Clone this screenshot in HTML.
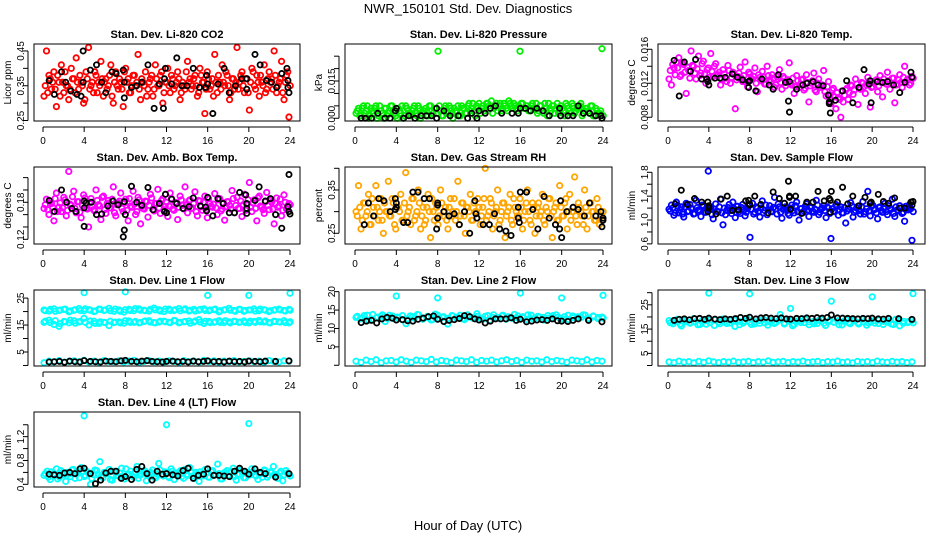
<!DOCTYPE html>
<html><head><meta charset="utf-8"><style>
html,body{margin:0;padding:0;background:#fff}
svg{display:block;font-family:"Liberation Sans",sans-serif}
</style></head><body>
<svg id="chart" width="936" height="540" viewBox="0 0 936 540">
<rect width="936" height="540" fill="#fff"/>
<text x="468" y="13" text-anchor="middle" font-size="13">NWR_150101  Std. Dev. Diagnostics</text>
<text x="468" y="530" text-anchor="middle" font-size="13">Hour of Day (UTC)</text>
</svg>
<script>
const xTicks=[0,4,8,12,16,20,24];
const co2Color=[0.32,0.45,0.38,0.34,0.39,0.29,0.36,0.41,0.33,0.35,0.31,0.40,0.37,0.43,0.34,0.36,0.30,0.39,0.46,0.35,0.33,0.38,0.36,0.42,0.32,0.37,0.35,0.41,0.30,0.39,0.34,0.36,0.29,0.40,0.37,0.33,0.38,0.35,0.44,0.31,0.36,0.39,0.34,0.37,0.32,0.41,0.35,0.38,0.30,0.36,0.40,0.33,0.37,0.35,0.39,0.31,0.36,0.34,0.42,0.37,0.35,0.38,0.32,0.40,0.36,0.27,0.39,0.34,0.37,0.44,0.33,0.36,0.41,0.35,0.38,0.31,0.37,0.34,0.46,0.36,0.39,0.33,0.37,0.28,0.40,0.35,0.38,0.32,0.36,0.41,0.34,0.39,0.37,0.45,0.33,0.36,0.42,0.31,0.38,0.26];
const co2ColorB=[0.35,0.33,0.37,0.36,0.34,0.38,0.32,0.36,0.39,0.35,0.34,0.37,0.33,0.36,0.38,0.35,0.31,0.37,0.34,0.36,0.39,0.33,0.35,0.37,0.36,0.34,0.38,0.32,0.36,0.35,0.37,0.34,0.39,0.36,0.33,0.35,0.38,0.36,0.34,0.37,0.35,0.32,0.36,0.38,0.34,0.37,0.35,0.39,0.33,0.36,0.35,0.38,0.34,0.36,0.37,0.33,0.35,0.39,0.36,0.34,0.37,0.35,0.33,0.38,0.36,0.34,0.37,0.35,0.32,0.36,0.38,0.34,0.36,0.39,0.35,0.33,0.37,0.36,0.34,0.38,0.35,0.37,0.33,0.36,0.39,0.34,0.36,0.38,0.35,0.33,0.37,0.36,0.34,0.38,0.35,0.37,0.33,0.36,0.39,0.35];
const co2BlackH=[0.6,1.1,1.8,2.2,2.7,3.3,3.7,3.9,3.9,4.6,5.2,5.7,6.1,6.7,7.1,7.8,7.9,7.9,8.6,9.1,9.6,10.2,10.8,11.3,11.7,11.8,11.9,12.5,13.0,13.5,14.0,14.6,15.2,15.8,15.9,16.0,16.5,17.0,17.6,18.1,18.7,19.3,19.8,19.8,20.6,21.1,21.7,22.2,22.7,23.2,23.7,23.8,23.9,23.8];
const co2BlackV=[0.365,0.325,0.39,0.36,0.335,0.325,0.32,0.45,0.36,0.395,0.41,0.36,0.33,0.39,0.385,0.395,0.36,0.315,0.345,0.35,0.36,0.41,0.285,0.355,0.285,0.37,0.40,0.355,0.43,0.35,0.35,0.40,0.345,0.345,0.38,0.355,0.27,0.355,0.40,0.33,0.35,0.37,0.34,0.37,0.44,0.41,0.365,0.36,0.345,0.385,0.40,0.345,0.33,0.365];
const presColor=[0.002,0.004,0.001,0.005,0.003,0.000,0.004,0.002,0.005,0.001,0.003,0.000,0.004,0.002,0.005,0.003,0.001,0.004,0.002,0.000,0.005,0.003,0.001,0.004,0.002,0.005,0.000,0.003,0.004,0.001,0.005,0.002,0.004,0.027,0.003,0.001,0.005,0.002,0.004,0.000,0.003,0.005,0.001,0.004,0.002,0.005,0.003,0.006,0.001,0.004,0.002,0.005,0.003,0.006,0.004,0.002,0.005,0.003,0.006,0.004,0.005,0.003,0.006,0.004,0.005,0.003,0.027,0.006,0.004,0.005,0.003,0.006,0.004,0.002,0.005,0.003,0.006,0.001,0.004,0.005,0.002,0.006,0.003,0.004,0.001,0.005,0.003,0.006,0.002,0.004,0.005,0.001,0.003,0.004,0.002,0.005,0.001,0.003,0.002,0.028];
const presColorB=[0.003,0.001,0.004,0.002,0.005,0.001,0.003,0.004,0.000,0.005,0.002,0.004,0.001,0.003,0.005,0.002,0.000,0.003,0.005,0.001,0.004,0.002,0.003,0.005,0.001,0.004,0.002,0.003,0.001,0.005,0.003,0.004,0.002,0.005,0.001,0.004,0.003,0.005,0.002,0.004,0.003,0.001,0.005,0.004,0.002,0.006,0.004,0.003,0.005,0.006,0.004,0.003,0.006,0.005,0.007,0.004,0.006,0.005,0.003,0.006,0.004,0.007,0.005,0.006,0.004,0.005,0.006,0.004,0.005,0.003,0.005,0.004,0.006,0.003,0.005,0.002,0.004,0.006,0.003,0.005,0.004,0.002,0.005,0.003,0.006,0.004,0.002,0.005,0.003,0.004,0.006,0.002,0.004,0.003,0.005,0.001,0.004,0.002,0.003,0.001];
const presBlackH=[0.6,1,1.6,2.2,2.9,3.4,3.9,4,4.7,5.2,5.8,6.4,6.9,7.4,7.9,7.9,8.6,9.2,10.0,10.9,11.3,11.8,12,12.6,13.1,13.6,14.2,15.2,15.8,16.0,16.5,17.0,17.6,18.2,18.8,19.8,19.9,20.6,21.1,21.6,22.1,22.7,23.3,23.8,23.9];
const presBlackV=[0,0,0,0.002,0,0,0.003,0.004,0,0.001,0,0.001,0.001,0.001,0,0.004,0.003,0.001,0.001,0,0.002,0,0.003,0.002,0.004,0.005,0.002,0.002,0.002,0.004,0.004,0.003,0.004,0.003,0.001,0.004,0.001,0.001,0.001,0.005,0.002,0.002,0.001,0.001,0];
const tempColor=[0.0125,0.0118,0.0138,0.0145,0.0150,0.0130,0.0142,0.0108,0.0135,0.0158,0.0140,0.0125,0.0152,0.0132,0.0146,0.0120,0.0138,0.0155,0.0128,0.0143,0.0130,0.0118,0.0136,0.0126,0.0141,0.0120,0.0133,0.0090,0.0128,0.0139,0.0122,0.0145,0.0116,0.0131,0.0125,0.0138,0.0110,0.0127,0.0134,0.0119,0.0140,0.0124,0.0130,0.0115,0.0128,0.0136,0.0113,0.0126,0.0121,0.0144,0.0118,0.0108,0.0129,0.0115,0.0124,0.0112,0.0130,0.0098,0.0120,0.0132,0.0110,0.0125,0.0117,0.0135,0.0105,0.0122,0.0096,0.0114,0.0090,0.0103,0.0080,0.0098,0.0112,0.0101,0.0118,0.0107,0.0125,0.0095,0.0113,0.0120,0.0108,0.0127,0.0092,0.0116,0.0123,0.0110,0.0129,0.0104,0.0121,0.0133,0.0113,0.0126,0.0097,0.0119,0.0130,0.0115,0.0140,0.0124,0.0118,0.0128];
const tempColorB=[0.0135,0.0142,0.0130,0.0138,0.0128,0.0144,0.0133,0.0139,0.0126,0.0141,0.0132,0.0137,0.0129,0.0143,0.0131,0.0136,0.0127,0.0134,0.0140,0.0129,0.0133,0.0125,0.0131,0.0122,0.0135,0.0127,0.0130,0.0124,0.0132,0.0126,0.0129,0.0121,0.0133,0.0125,0.0128,0.0120,0.0130,0.0123,0.0127,0.0119,0.0129,0.0122,0.0126,0.0118,0.0125,0.0121,0.0128,0.0117,0.0124,0.0120,0.0126,0.0116,0.0123,0.0119,0.0125,0.0114,0.0121,0.0117,0.0123,0.0112,0.0120,0.0115,0.0118,0.0110,0.0116,0.0106,0.0112,0.0104,0.0109,0.0101,0.0111,0.0106,0.0114,0.0109,0.0117,0.0112,0.0119,0.0114,0.0121,0.0116,0.0118,0.0122,0.0115,0.0120,0.0124,0.0117,0.0121,0.0125,0.0119,0.0123,0.0120,0.0126,0.0118,0.0124,0.0121,0.0127,0.0122,0.0125,0.0120,0.0126];
const tempBlackH=[0.6,1.1,1.6,2.2,2.7,3.3,3.8,3.9,4,4.6,5.1,5.6,6.3,6.8,7.3,7.9,8.0,7.9,8.6,9.2,9.9,10.3,10.8,11.5,11.8,11.9,11.9,12.6,13.2,13.6,14.2,14.7,15.2,15.7,15.8,15.8,15.9,16.4,17.1,17.5,18.1,18.7,19.2,19.7,19.8,19.9,20.5,21.0,21.5,22.1,22.7,23.2,23.8,23.9];
const tempBlackV=[0.0147,0.0105,0.0145,0.0134,0.0148,0.0125,0.0125,0.0122,0.0118,0.0126,0.0126,0.0127,0.0131,0.0127,0.0124,0.0122,0.0123,0.0115,0.0111,0.0125,0.0118,0.0113,0.0130,0.0121,0.0099,0.0122,0.0086,0.0113,0.0118,0.0120,0.0122,0.0118,0.0117,0.0106,0.0098,0.0096,0.0085,0.0100,0.0111,0.0123,0.0097,0.0115,0.0136,0.0119,0.0123,0.0097,0.0122,0.0121,0.0122,0.0118,0.0109,0.0121,0.0133,0.0127];
const ambColor=[0.170,0.185,0.160,0.178,0.150,0.195,0.172,0.165,0.188,0.158,0.230,0.175,0.198,0.163,0.181,0.155,0.192,0.170,0.140,0.186,0.168,0.200,0.176,0.152,0.190,0.162,0.183,0.171,0.205,0.158,0.179,0.195,0.165,0.185,0.150,0.174,0.198,0.160,0.188,0.145,0.170,0.182,0.156,0.193,0.168,0.178,0.201,0.162,0.186,0.173,0.157,0.195,0.169,0.180,0.152,0.190,0.175,0.205,0.163,0.184,0.171,0.197,0.158,0.182,0.167,0.190,0.155,0.178,0.172,0.194,0.160,0.186,0.169,0.151,0.181,0.175,0.199,0.163,0.188,0.170,0.157,0.193,0.176,0.212,0.165,0.184,0.150,0.190,0.172,0.162,0.196,0.168,0.180,0.145,0.187,0.174,0.158,0.192,0.169,0.178];
const ambColorB=[0.176,0.168,0.182,0.172,0.186,0.165,0.179,0.171,0.184,0.167,0.177,0.189,0.170,0.181,0.164,0.175,0.187,0.169,0.180,0.173,0.166,0.183,0.174,0.188,0.168,0.178,0.171,0.185,0.163,0.176,0.182,0.170,0.179,0.167,0.186,0.172,0.177,0.165,0.184,0.173,0.169,0.181,0.175,0.187,0.166,0.178,0.171,0.183,0.168,0.180,0.174,0.186,0.167,0.179,0.172,0.184,0.169,0.176,0.182,0.170,0.178,0.165,0.183,0.173,0.180,0.168,0.186,0.174,0.177,0.171,0.184,0.166,0.179,0.173,0.181,0.169,0.186,0.175,0.170,0.182,0.176,0.167,0.184,0.172,0.179,0.170,0.187,0.174,0.168,0.181,0.175,0.183,0.169,0.178,0.172,0.185,0.167,0.180,0.174,0.176];
const ambBlackH=[0.6,1.1,1.8,2.3,2.8,3.2,4.0,4.0,4.0,4.2,4.7,5.2,5.7,6.3,6.8,7.3,7.8,7.9,7.9,8.0,8.6,9.1,9.6,10.2,10.7,11.3,11.8,11.9,12.0,12.5,13.0,13.6,14.2,14.6,15.3,15.8,15.9,16.0,16.5,17.0,17.5,18.1,18.6,19.1,19.7,19.8,19.8,19.8,20.6,21.0,21.6,22.1,22.6,23.2,23.8,23.9,23.9,24.0];
const ambBlackV=[0.183,0.165,0.200,0.180,0.170,0.165,0.182,0.171,0.141,0.179,0.180,0.160,0.161,0.174,0.182,0.176,0.124,0.135,0.181,0.160,0.206,0.180,0.175,0.204,0.168,0.178,0.165,0.193,0.163,0.185,0.178,0.170,0.173,0.187,0.174,0.172,0.166,0.188,0.158,0.186,0.178,0.163,0.163,0.196,0.192,0.178,0.170,0.162,0.183,0.205,0.182,0.186,0.160,0.138,0.173,0.225,0.165,0.161];
const rhColor=[0.30,0.36,0.26,0.32,0.29,0.34,0.27,0.31,0.36,0.28,0.33,0.25,0.30,0.37,0.29,0.32,0.26,0.31,0.34,0.28,0.39,0.30,0.27,0.33,0.29,0.35,0.26,0.31,0.28,0.34,0.24,0.30,0.32,0.27,0.35,0.29,0.31,0.26,0.33,0.30,0.28,0.37,0.29,0.32,0.25,0.31,0.34,0.28,0.30,0.33,0.27,0.31,0.40,0.29,0.33,0.26,0.30,0.35,0.28,0.32,0.24,0.30,0.34,0.27,0.31,0.29,0.33,0.26,0.30,0.35,0.28,0.32,0.25,0.31,0.29,0.34,0.27,0.30,0.33,0.24,0.31,0.28,0.36,0.29,0.32,0.26,0.34,0.30,0.38,0.27,0.31,0.29,0.35,0.26,0.32,0.30,0.28,0.33,0.27,0.29];
const rhColorB=[0.29,0.31,0.28,0.32,0.30,0.27,0.33,0.29,0.31,0.30,0.28,0.32,0.30,0.29,0.33,0.27,0.31,0.30,0.28,0.32,0.29,0.31,0.33,0.28,0.30,0.32,0.29,0.27,0.31,0.30,0.33,0.28,0.31,0.29,0.32,0.30,0.28,0.31,0.29,0.33,0.30,0.27,0.32,0.29,0.31,0.30,0.28,0.32,0.30,0.31,0.29,0.33,0.28,0.30,0.32,0.29,0.31,0.27,0.30,0.32,0.29,0.31,0.28,0.33,0.30,0.29,0.31,0.28,0.32,0.30,0.27,0.31,0.29,0.32,0.30,0.28,0.31,0.33,0.29,0.30,0.32,0.28,0.31,0.29,0.33,0.30,0.28,0.31,0.29,0.32,0.30,0.27,0.31,0.29,0.32,0.30,0.28,0.31,0.29,0.30];
const rhBlackH=[0.9,1.3,1.8,2.3,2.8,3.4,3.9,3.9,4.0,4.0,4.7,5.1,5.6,6.1,6.7,7.2,7.9,8.0,8.0,8.0,8.6,9.1,9.6,10.1,10.6,11.1,11.6,11.7,11.8,12.4,13.0,13.5,14.0,14.6,15.1,15.8,15.8,15.9,16.0,16.6,17.2,17.7,18.3,18.8,19.4,19.8,19.9,20.0,20.5,21.1,21.6,22.2,22.7,23.3,23.8,23.9,24.0,24.0];
const rhBlackV=[0.27,0.32,0.29,0.33,0.325,0.30,0.33,0.305,0.31,0.32,0.275,0.275,0.345,0.345,0.33,0.33,0.26,0.285,0.315,0.32,0.30,0.29,0.295,0.27,0.30,0.25,0.325,0.295,0.285,0.27,0.27,0.295,0.26,0.255,0.245,0.31,0.285,0.275,0.345,0.345,0.305,0.26,0.335,0.285,0.27,0.26,0.325,0.24,0.30,0.31,0.305,0.29,0.32,0.29,0.30,0.265,0.28,0.285];
const flowColor=[1.18,1.25,1.08,1.30,1.12,1.22,1.05,1.28,1.15,1.20,1.10,1.33,1.17,1.06,1.24,1.13,1.82,1.19,1.02,1.27,1.14,1.35,0.92,1.09,1.21,1.16,1.30,1.04,1.23,1.11,1.26,1.07,1.19,0.71,1.28,1.13,1.20,1.05,1.32,1.16,1.09,1.24,1.14,1.38,1.10,1.22,1.03,1.28,1.17,1.08,1.25,1.12,1.30,1.00,1.19,1.15,1.27,1.06,1.21,1.13,1.33,1.09,1.18,1.24,1.04,1.20,0.69,1.15,1.26,1.08,1.22,1.12,0.95,1.19,1.29,1.05,1.16,1.23,1.10,1.31,1.14,1.48,1.07,1.25,1.18,1.02,1.22,1.13,1.28,1.09,1.20,1.35,1.06,1.17,1.24,1.11,0.98,1.19,1.26,0.66];
const flowColorB=[1.15,1.20,1.12,1.24,1.17,1.10,1.22,1.14,1.26,1.18,1.11,1.21,1.16,1.25,1.13,1.19,1.23,1.09,1.18,1.15,1.22,1.12,1.20,1.16,1.26,1.11,1.19,1.23,1.14,1.21,1.17,1.13,1.24,1.18,1.10,1.22,1.15,1.20,1.12,1.25,1.17,1.14,1.21,1.19,1.27,1.13,1.18,1.22,1.11,1.20,1.16,1.24,1.14,1.19,1.12,1.23,1.17,1.21,1.15,1.18,1.25,1.13,1.20,1.16,1.22,1.11,1.19,1.14,1.23,1.17,1.12,1.21,1.15,1.18,1.24,1.13,1.20,1.16,1.22,1.10,1.19,1.15,1.23,1.17,1.12,1.21,1.16,1.19,1.14,1.24,1.18,1.11,1.22,1.15,1.20,1.13,1.23,1.17,1.19,1.14];
const flowBlackH=[0.7,1.3,1.9,2.6,3.3,3.9,4.0,4.0,3.9,4.7,5.2,5.8,6.3,6.9,7.6,7.9,8.0,8.0,8.5,9.1,9.8,10.3,10.9,11.4,11.8,11.9,11.9,12.0,12.5,13.1,13.6,14.2,14.7,15.3,15.8,15.9,15.9,16.0,16.6,17.1,17.6,18.1,18.7,19.3,19.8,19.9,20.6,21.1,21.6,22.2,22.7,23.2,23.8,23.9,24.0];
const flowBlackV=[1.27,1.50,1.26,1.36,1.30,1.30,1.24,1.20,1.14,1.10,1.35,1.40,1.16,1.17,1.32,1.33,1.27,1.25,1.40,1.26,1.12,1.47,1.36,1.28,1.65,1.40,1.38,1.18,1.40,1.11,1.30,1.30,1.48,1.32,1.36,1.33,1.13,1.48,1.30,1.55,1.27,1.40,1.24,1.38,1.28,1.30,1.43,1.31,1.28,1.37,1.20,1.20,1.30,1.25,1.31];
const lineBlackH=[0.6,1.1,1.6,2.1,2.6,3.1,3.6,4.0,4.6,5.1,5.6,6.1,6.6,7.1,7.6,8.0,8.6,9.1,9.6,10.1,10.6,11.1,11.6,12.0,12.6,13.1,13.6,14.1,14.6,15.1,15.6,16.0,16.6,17.1,17.6,18.1,18.6,19.1,19.6,20.0,20.6,21.1,21.6,22.6,23.9];
const line1Upper=[20.6,20.2,21.0,20.4,20.8,19.9,20.5,21.1,20.3,20.7,20.0,20.9,20.4,21.2,20.1,20.6,19.8,20.8,20.3,21.0,20.5,20.2,21.3,20.7,20.0,20.9,20.4,21.1,20.6,20.2,20.8,20.5,21.0,20.3,20.7,19.9,20.6,21.2,20.4,20.8,20.1,20.6,21.0,20.3,20.7,20.0,20.5,20.9,20.4,20.8];
const line1UpperB=[20.3,20.8,20.1,20.6,20.9,20.2,20.7,20.4,21.0,20.5,20.2,20.8,20.6,20.3,20.9,20.1,20.7,20.4,21.1,20.5,20.3,20.8,20.6,20.2,20.9,20.4,20.7,20.3,21.0,20.5,20.2,20.8,20.4,20.6,20.9,20.3,20.7,20.5,20.1,20.8,20.4,20.6,20.2,20.9,20.5,20.3,20.7,20.6,20.2,20.5];
const line1Lower=[16.0,16.8,15.2,14.5,16.3,15.8,16.6,16.1,17.5,15.0,16.4,15.6,16.0,14.8,15.9,16.2,15.7,16.5,16.0,15.8,16.3,16.6,15.9,16.1,16.4,16.0,16.7,15.8,16.2,16.5,16.1,17.0,15.6,16.3,16.0,16.6,15.9,16.2,16.4,16.0,16.5,15.8,16.3,16.7,16.1,15.9,16.4,16.2,16.6,15.8];
const line1LowerB=[16.4,15.9,16.6,15.5,16.2,16.8,15.7,16.3,16.0,16.5,15.6,16.2,15.9,16.4,16.1,15.8,16.6,16.0,16.3,15.9,16.5,16.1,15.8,16.4,16.2,15.9,16.6,16.0,16.3,15.7,16.5,16.1,16.4,15.9,16.2,16.0,16.6,15.8,16.3,16.1,15.9,16.4,16.0,16.2,16.5,15.8,16.3,16.1,15.9,16.2];
const line1Low=[1.0,1.6,1.3,1.8,1.2,1.5,1.7,1.4,1.9,1.3,1.6,1.2,1.8,1.5,1.4,1.7,1.3,1.6,1.9,1.2,1.5,1.8,1.4,1.6,1.3,1.7,1.5,1.2,1.8,1.4,1.6,1.3,1.9,1.5,1.7,1.2,1.6,1.4,1.8,1.3,1.5,1.7,1.4,1.6,1.2,1.8,1.5,1.3,1.7,1.6];
const line1OutH=[4,8,16,20,24];
const line1OutV=[27,27.3,26,26,26.8];
const line1BlackV=[1.3,1.4,1.5,1.2,1.6,1.4,1.3,1.8,1.5,1.4,1.3,1.6,1.5,1.4,1.7,1.9,1.5,1.4,1.6,1.8,1.5,1.4,1.3,1.5,1.6,1.4,1.5,1.3,1.6,1.4,1.5,1.7,1.4,1.5,1.3,1.6,1.4,1.5,1.3,1.6,1.5,1.4,1.6,1.5,1.7];
const line2Upper=[13.0,12.6,13.5,12.2,13.8,12.9,13.3,11.9,13.6,12.7,13.1,12.4,11.3,13.4,12.8,13.7,12.5,13.0,12.3,13.9,12.7,13.2,11.2,13.5,12.9,13.6,12.4,13.1,12.8,14.0,12.6,13.3,12.2,13.7,12.9,13.4,12.5,13.0,13.8,12.7,13.2,12.4,13.6,12.8,13.1,12.3,13.5,12.9,13.7,12.6,13.2,12.4,13.4,12.8,13.0,13.6,12.5,13.3,12.7,13.1];
const line2UpperB=[13.3,12.8,13.6,12.5,13.1,13.7,12.7,13.4,12.9,13.5,12.6,13.2,13.8,12.8,13.3,12.4,13.6,13.0,12.7,13.4,13.1,12.6,13.7,12.9,13.3,12.5,13.5,13.0,12.8,13.6,13.2,12.7,13.4,12.9,13.7,12.6,13.3,13.0,12.8,13.5,13.1,12.5,13.6,12.9,13.2,13.7,12.7,13.4,13.0,12.8];
const line2Low=[1.1,0.8,1.4,1.0,1.5,0.7,1.2,1.3,0.9,1.5,1.1,0.8,1.4,1.2,1.0,1.6,0.9,1.3,1.1,0.7,1.4,1.2,1.0,1.5,0.8,1.3,1.1,1.4,0.9,1.2,1.5,1.0,1.3,0.8,1.4,1.1,1.2,0.9,1.5,1.0,1.3,1.1,0.8,1.4,1.2,1.0,1.5,0.9,1.3,1.1];
const line2OutH=[4,8,16,20,24];
const line2OutV=[18.8,18.3,19.6,18.3,19.0];
const line2BlackV=[11.6,12.0,12.2,11.5,12.6,13.0,12.8,12.3,12.4,12.1,12.0,12.5,12.8,13.2,13.4,12.5,11.9,12.2,12.4,12.7,13.5,13.2,12.6,12.3,11.5,12.0,12.6,12.6,12.6,12.9,12.2,12.5,11.8,12.0,12.3,12.4,12.2,12.6,12.1,12.0,11.9,12.2,12.6,12.2,11.8];
const line3Upper=[18.5,17.2,19.0,16.3,18.0,17.6,19.3,16.8,18.4,17.0,18.8,16.5,17.9,19.1,17.3,18.6,16.1,18.2,17.5,19.4,16.9,18.0,17.4,19.0,16.6,18.5,17.8,21.0,17.1,18.7,16.4,18.3,17.7,19.2,16.8,18.1,17.3,19.0,16.5,18.6,17.9,18.4,16.7,18.9,17.2,18.3,17.6,19.1,16.6,18.0,17.4,18.8,16.9,18.5,17.1,19.0,16.3,18.2,17.7,18.6];
const line3UpperB=[17.6,18.2,17.0,18.7,17.4,18.0,16.9,18.4,17.7,18.9,17.2,18.1,17.5,18.6,16.8,18.3,17.8,17.1,18.5,17.6,18.0,17.3,18.8,17.5,18.2,16.9,18.4,17.7,18.0,17.2,18.6,17.4,18.1,17.8,16.8,18.3,17.6,18.7,17.1,18.0,17.5,18.4,17.3,18.2,17.8,16.9,18.5,17.4,18.1,17.6];
const line3Low=[1.5,1.2,1.8,1.4,1.6,1.1,1.7,1.3,1.9,1.5,1.2,1.6,1.4,1.8,1.3,1.5,1.7,1.2,1.6,1.4,1.9,1.3,1.5,1.7,1.2,1.6,1.4,1.8,1.3,1.5,1.7,1.2,1.6,1.4,1.8,1.3,1.5,1.1,1.7,1.4,1.6,1.2,1.8,1.5,1.3,1.7,1.4,1.6,1.2,1.5];
const line3OutH=[4,8,12,16,20,24];
const line3OutV=[29.8,29.5,23.5,26.5,28.3,29.6];
const line3BlackV=[18.6,19.0,19.2,18.8,19.3,19.4,19.0,19.5,19.1,18.9,19.2,19.0,19.3,19.8,19.4,19.9,19.2,19.6,19.8,19.5,19.3,19.6,19.2,19.1,19.4,19.3,19.6,19.4,19.7,19.5,19.8,20.8,19.6,19.5,19.4,19.3,19.2,19.4,19.3,19.5,19.2,19.1,19.4,19.3,19.0];
const line4Color=[0.55,0.62,0.48,0.58,0.66,0.52,0.60,0.45,0.57,0.64,0.50,0.59,0.68,0.53,0.61,0.40,0.56,0.63,0.78,0.51,0.58,0.65,0.47,0.60,0.54,0.67,0.49,0.57,0.62,0.52,0.70,0.55,0.60,0.46,0.58,0.64,0.51,0.75,0.56,0.61,0.53,0.66,0.48,0.59,0.63,0.50,0.57,0.68,0.54,0.60,0.45,0.58,0.65,0.52,0.61,0.56,0.74,0.49,0.59,0.63,0.53,0.67,0.47,0.57,0.62,0.51,0.60,0.66,0.55,0.48,0.58,0.64,0.52,0.61,0.70,0.54,0.59,0.46,0.63,0.57];
const line4ColorB=[0.58,0.52,0.61,0.55,0.49,0.63,0.56,0.60,0.53,0.65,0.57,0.51,0.62,0.55,0.59,0.50,0.64,0.56,0.53,0.60,0.58,0.48,0.62,0.55,0.59,0.52,0.66,0.57,0.54,0.61,0.50,0.58,0.63,0.55,0.60,0.52,0.57,0.64,0.54,0.59,0.51,0.62,0.56,0.58,0.53,0.65,0.55,0.60,0.50,0.57,0.61,0.54,0.59,0.52,0.63,0.56,0.58,0.49,0.60,0.55,0.62,0.53,0.57,0.64,0.51,0.59,0.56,0.61,0.54,0.58,0.52,0.63,0.55,0.60,0.57,0.50,0.62,0.56,0.59,0.54];
const line4OutH=[4,12,20];
const line4OutV=[1.55,1.40,1.42];
const line4BlackV=[0.57,0.56,0.55,0.59,0.60,0.58,0.66,0.67,0.58,0.41,0.47,0.59,0.62,0.62,0.50,0.53,0.48,0.65,0.70,0.58,0.47,0.62,0.57,0.58,0.56,0.54,0.63,0.67,0.50,0.55,0.57,0.66,0.55,0.55,0.54,0.53,0.62,0.67,0.62,0.57,0.66,0.60,0.58,0.52,0.58];

const NS='http://www.w3.org/2000/svg';
const svg=document.getElementById('chart');
const cols=[{x0:43,x1:290,bl:34,br:300},{x0:355,x1:603,bl:345,br:612},{x0:668,x1:913,bl:658,br:925}];
const rows=[{t:44,b:121},{t:167,b:244},{t:290,b:366},{t:412,b:487}];
const panels=[
 {id:'co2',title:'Stan. Dev. Li-820 CO2',ylab:'Licor ppm',c:0,r:0,lo:0.2486,hi:0.470,ticks:[0.25,0.30,0.35,0.40,0.45],labels:[0.25,0.35,0.45],dp:2,color:'#ff0000',even:[co2Color,co2ColorB],pts:[],black:[co2BlackH,co2BlackV]},
 {id:'pressure',title:'Stan. Dev. Li-820 Pressure',ylab:'kPa',c:1,r:0,lo:-0.0011,hi:0.0299,ticks:[0,0.005,0.010,0.015,0.020,0.025],labels:[0,0.015],dp:3,color:'#00ee00',even:[presColor,presColorB],pts:[],black:[presBlackH,presBlackV]},
 {id:'temp',title:'Stan. Dev. Li-820 Temp.',ylab:'degrees C',c:2,r:0,lo:0.00756,hi:0.01662,ticks:[0.008,0.010,0.012,0.014,0.016],labels:[0.008,0.012,0.016],dp:3,color:'#ff00ff',even:[tempColor,tempColorB],pts:[],black:[tempBlackH,tempBlackV]},
 {id:'amb',title:'Stan. Dev. Amb. Box Temp.',ylab:'degrees C',c:0,r:1,lo:0.1124,hi:0.2372,ticks:[0.12,0.14,0.16,0.18,0.20,0.22],labels:[0.12,0.18],dp:2,color:'#ff00ff',even:[ambColor,ambColorB],pts:[],black:[ambBlackH,ambBlackV]},
 {id:'rh',title:'Stan. Dev. Gas Stream RH',ylab:'percent',c:1,r:1,lo:0.2253,hi:0.403,ticks:[0.25,0.30,0.35,0.40],labels:[0.25,0.35],dp:2,color:'#ffa500',even:[rhColor,rhColorB],pts:[],black:[rhBlackH,rhBlackV]},
 {id:'sample-flow',title:'Stan. Dev. Sample Flow',ylab:'ml/min',c:2,r:1,lo:0.598,hi:1.889,ticks:[0.6,0.8,1.0,1.2,1.4,1.6,1.8],labels:[0.6,1.0,1.4,1.8],dp:1,color:'#0000ff',even:[flowColor,flowColorB],pts:[],black:[flowBlackH,flowBlackV]},
 {id:'line1',title:'Stan. Dev. Line 1 Flow',ylab:'ml/min',c:0,r:2,lo:-0.2,hi:28,ticks:[0,5,10,15,20,25],labels:[5,15,25],dp:0,color:'#00ffff',even:[line1Upper,line1UpperB,line1Lower,line1LowerB,line1Low],pts:[[line1OutH,line1OutV]],black:[lineBlackH,line1BlackV]},
 {id:'line2',title:'Stan. Dev. Line 2 Flow',ylab:'ml/min',c:1,r:2,lo:-0.2,hi:20.45,ticks:[0,5,10,15,20],labels:[5,10,15,20],dp:0,color:'#00ffff',even:[line2Upper,line2UpperB,line2Low],pts:[[line2OutH,line2OutV]],black:[lineBlackH,line2BlackV]},
 {id:'line3',title:'Stan. Dev. Line 3 Flow',ylab:'ml/min',c:2,r:2,lo:-0.2,hi:31.1,ticks:[0,5,10,15,20,25,30],labels:[5,15,25],dp:0,color:'#00ffff',even:[line3Upper,line3UpperB,line3Low],pts:[[line3OutH,line3OutV]],black:[lineBlackH,line3BlackV]},
 {id:'line4',title:'Stan. Dev. Line 4 (LT) Flow',ylab:'ml/min',c:0,r:3,lo:0.355,hi:1.614,ticks:[0.4,0.6,0.8,1.0,1.2,1.4],labels:[0.4,0.8,1.2],dp:1,color:'#00ffff',even:[line4Color,line4ColorB],pts:[[line4OutH,line4OutV]],black:[lineBlackH,line4BlackV]}
];
function mk(tag,attrs,parent){const e=document.createElementNS(NS,tag);for(const k in attrs)e.setAttribute(k,attrs[k]);(parent||svg).appendChild(e);return e;}
panels.forEach(p=>{
 const C=cols[p.c],R=rows[p.r];
 const xs=h=>C.x0+(C.x1-C.x0)*h/24;
 const ys=v=>R.b-(v-p.lo)/(p.hi-p.lo)*(R.b-R.t);
 const g=mk('g',{});
 
 
 const t=mk('text',{x:(C.bl+C.br)/2,y:R.t-6,'text-anchor':'middle','font-size':'11','font-weight':'bold'},g);
 t.textContent=p.title;
 
 
 const yl=mk('text',{x:0,y:0,'text-anchor':'middle','font-size':'10',transform:`translate(${C.bl-23},${(R.t+R.b)/2}) rotate(-90)`},g);
 yl.textContent=p.ylab;
 
 
 const pg=mk('g',{fill:'none','stroke-width':'1.8'},g);
 
 
 p.even.forEach((arr,k)=>{const off=k%2?0.12:0;arr.forEach((v,i)=>{
  const c=mk('circle',{cx:xs(0.1+off+i*23.8/(arr.length-1)),cy:ys(v),r:2.7,stroke:p.color},pg);
  
  
 });});
 p.pts.forEach(([H,V])=>{H.forEach((h,i)=>{
  const c=mk('circle',{cx:xs(h),cy:ys(V[i]),r:2.7,stroke:p.color},pg);
  
  
 });});
 const [BH,BV]=p.black;
 BH.forEach((h,i)=>{
  const c=mk('circle',{cx:xs(h),cy:ys(BV[i]),r:2.6,stroke:'#000'},pg);
  
  
 });
 const box=mk('rect',{x:C.bl,y:R.t,width:C.br-C.bl,height:R.b-R.t,fill:'none',stroke:'#000','stroke-width':'1'},g);
 
 
 const ax=mk('g',{stroke:'#000','stroke-width':'1'},g);
 
 
 mk('line',{x1:xs(0),x2:xs(24),y1:R.b+6,y2:R.b+6},ax);
 xTicks.forEach(h=>{
  mk('line',{x1:xs(h),x2:xs(h),y1:R.b+6,y2:R.b+11},ax);
  const tl=mk('text',{x:xs(h),y:R.b+23,'text-anchor':'middle','font-size':'10',stroke:'none'},ax);
  tl.textContent=h;
  
  
 });
 const ty=p.ticks.map(ys).filter(y=>y>=R.t-1&&y<=R.b+1);
 mk('line',{x1:C.bl-6,x2:C.bl-6,y1:Math.min(...ty),y2:Math.max(...ty)},ax);
 p.ticks.forEach(v=>{const y=ys(v);if(y<R.t-1||y>R.b+1)return;mk('line',{x1:C.bl-11,x2:C.bl-6,y1:y,y2:y},ax);});
 p.labels.forEach(v=>{
  const y=ys(v);
  const tl=mk('text',{x:0,y:0,'text-anchor':'middle','font-size':'10',stroke:'none',transform:`translate(${C.bl-10},${y}) rotate(-90)`},ax);
  tl.textContent=v.toFixed(p.dp);
  
  
 });
});
</script>
</body></html>
